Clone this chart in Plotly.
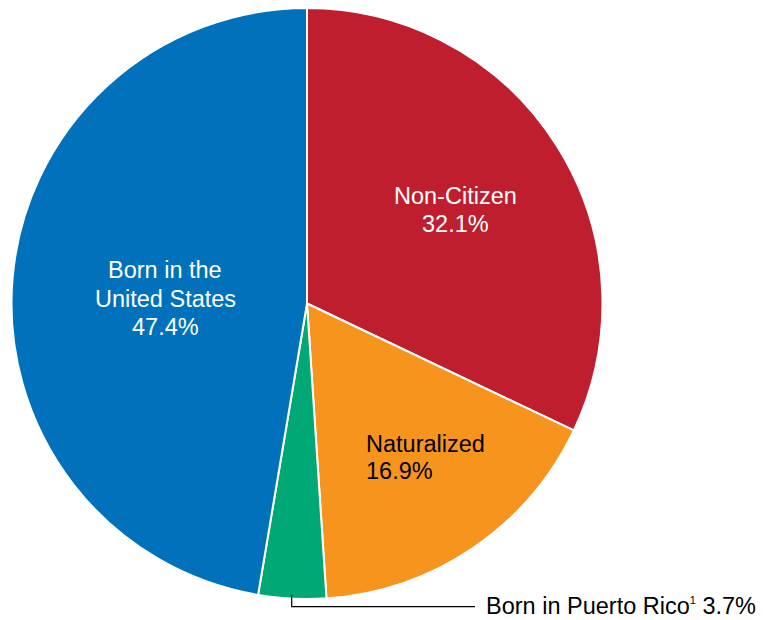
import plotly.graph_objects as go

W, H = 763, 620

categories = ["Non-Citizen", "Naturalized", "Born in Puerto Rico", "Born in the United States"]
values = [32.1, 16.9, 3.7, 47.4]
colors = ["#BE1E2D", "#F7941D", "#00A875", "#0071BA"]

# label text lines (real text)
label_lines = [
    ("Born in the", 165, 270, "center", "white"),
    ("United States", 165, 299, "center", "white"),
    ("47.4%", 165, 327, "center", "white"),
    ("Non-Citizen", 455, 196, "center", "white"),
    ("32.1%", 455, 224, "center", "white"),
    ("Naturalized", 364, 444, "left", "black"),
    ("16.9%", 364, 471, "left", "black"),
    ("Born in Puerto Rico<sup><span style='font-size:11px'>1</span></sup> 3.7%", 484, 606, "left", "black"),
]

def px(x):
    return x / W

def py(y):
    return 1 - y / H

cx, cy, r = 307, 303.5, 295.5

fig = go.Figure(go.Pie(
    labels=categories,
    values=values,
    marker=dict(colors=colors, line=dict(color="white", width=2)),
    sort=False,
    direction="clockwise",
    rotation=0,
    textinfo="none",
    hoverinfo="label+percent",
    showlegend=False,
    domain=dict(x=[px(cx - r), px(cx + r)], y=[py(cy + r), py(cy - r)]),
))

annotations = []
for text, x, y, anchor, color in label_lines:
    annotations.append(dict(
        text=text, x=px(x), y=py(y), xref="paper", yref="paper",
        xanchor=anchor, yanchor="middle", showarrow=False,
        font=dict(family="Liberation Sans, Arial, sans-serif", size=23.5, color=color),
    ))

fig.add_shape(type="path",
              path=f"M {px(291.7)},{py(595)} L {px(291.7)},{py(606.7)} L {px(475)},{py(606.7)}",
              xref="paper", yref="paper", line=dict(color="black", width=1.2))

fig.update_layout(
    width=W, height=H,
    margin=dict(l=0, r=0, t=0, b=0),
    paper_bgcolor="white",
    plot_bgcolor="white",
    annotations=annotations,
)

fig.write_html("out.html")
